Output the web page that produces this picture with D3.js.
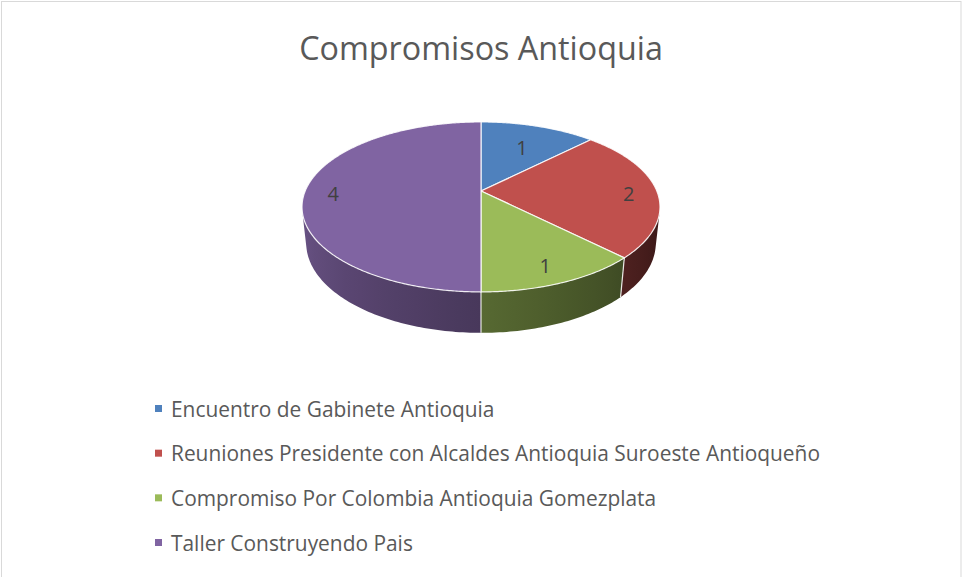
<!DOCTYPE html>
<html>
<head>
<meta charset="utf-8">
<script src="https://cdn.jsdelivr.net/npm/d3@7"></script>
<style>
  body { margin: 0; background: #fff; }
  svg { display: block; font-family: "Open Sans", Lato, sans-serif; }
</style>
</head>
<body>
<div id="chart"></div>
<script>
// chart data
const title = "Compromisos Antioquia";
const categories = [
  "Encuentro de Gabinete Antioquia",
  "Reuniones Presidente con Alcaldes Antioquia Suroeste Antioqueño",
  "Compromiso Por Colombia Antioquia Gomezplata",
  "Taller Construyendo Pais"
];
const values = [1, 2, 1, 4];
const colors = ["#4F81BD", "#C0504D", "#9BBB59", "#8064A2"];

const width = 962, height = 577;

const svg = d3.select("#chart").append("svg")
  .attr("width", width)
  .attr("height", height);

// chart area border
svg.append("rect")
  .attr("x", 1.5).attr("y", 1.5)
  .attr("width", width - 2.5).attr("height", height + 10)
  .attr("fill", "#fff")
  .attr("stroke", "#d9d9d9");

svg.append("text")
  .attr("x", 481).attr("y", 60)
  .attr("text-anchor", "middle")
  .attr("font-size", 32.3)
  .attr("fill", "#595959")
  .text(title);

// 3d perspective pie: angle measured clockwise from the back
const cx = 481, cy = 191;
const F = 175.8, K = 0.212, tilt = Math.asin(82 / 175.8), depthH = 0.235;
const cosT = Math.cos(tilt), sinT = Math.sin(tilt);

function project(a, r, z) {
  const X = r * Math.sin(a), Y = r * Math.cos(a);
  const d = 1 + K * (Y * cosT - z * sinT);
  return [cx + F * X / d, cy - F * (Y * sinT + z * cosT) / d];
}

const pie = d3.pie().sort(null).value(d => d)
  .startAngle(0).endAngle(2 * Math.PI);
const arcs = pie(values);

// outer wall visible where it faces the camera
const aVis = Math.acos(-K / cosT);
const aMin = aVis, aMax = 2 * Math.PI - aVis;

const shadeF = a => Math.max(0.2, Math.min(0.95, 0.56 + (a - Math.PI) * 0.2));
const shade = (col, a) => {
  const f = shadeF(a), c = d3.rgb(col);
  return d3.rgb(c.r * f, c.g * f, c.b * f).formatHex();
};

const line = d3.line();
const step = Math.PI / 180;
const defs = svg.append("defs");
const sides = svg.append("g");

arcs.forEach((d, i) => {
  const s = Math.max(d.startAngle, aMin), e = Math.min(d.endAngle, aMax);
  if (e <= s) return;
  const n = Math.ceil((e - s) / step);
  const angs = d3.range(n + 1).map(k => s + (e - s) * k / n);
  const topPts = angs.map(a => project(a, 1, 0));
  const botPts = angs.map(a => project(a, 1, -depthH)).reverse();

  // horizontal gradient following the wall's light falloff
  const x0 = topPts[0][0], x1 = topPts[n][0];
  const grad = defs.append("linearGradient")
    .attr("id", "side" + i)
    .attr("gradientUnits", "userSpaceOnUse")
    .attr("x1", x0).attr("x2", x1).attr("y1", 0).attr("y2", 0);
  angs.filter((a, k) => k % 6 === 0 || k === n).forEach(a => {
    const x = project(a, 1, 0)[0];
    grad.append("stop")
      .attr("offset", x1 === x0 ? 0 : (x - x0) / (x1 - x0))
      .attr("stop-color", shade(colors[i], a));
  });

  sides.append("path")
    .attr("d", line(topPts.concat(botPts)) + "Z")
    .attr("fill", `url(#side${i})`);
});

// seams between slices on the wall
arcs.forEach(d => {
  const a = d.startAngle;
  if (a > aMin && a < aMax) {
    sides.append("path")
      .attr("d", line([project(a, 1, 0), project(a, 1, -depthH)]))
      .attr("stroke", "#fff")
      .attr("stroke-opacity", 0.85)
      .attr("stroke-width", 1.2);
  }
});

// top faces
const topPolys = arcs.map(d => {
  const pts = [project(0, 0, 0)];
  for (let a = d.startAngle; a <= d.endAngle + 1e-9; a += step / 2) pts.push(project(a, 1, 0));
  pts.push(project(d.endAngle, 1, 0));
  return pts;
});

svg.append("g").selectAll("path")
  .data(arcs)
  .join("path")
  .attr("d", (d, i) => line(topPolys[i]) + "Z")
  .attr("fill", (d, i) => colors[i])
  .attr("stroke", "#fff")
  .attr("stroke-opacity", 0.85)
  .attr("stroke-width", 1.2)
  .attr("stroke-linejoin", "round");

// data labels, pulled inward until they fit in the slice
const labels = svg.append("g")
  .attr("font-size", 20)
  .attr("fill", "#404040")
  .attr("text-anchor", "middle");

arcs.forEach((d, i) => {
  const mid = (d.startAngle + d.endAngle) / 2;
  let r = 0.84, p;
  for (; r > 0.3; r -= 0.02) {
    p = project(mid, r, 0);
    const box = [[p[0] - 12, p[1] - 19], [p[0] + 12, p[1] - 19], [p[0] + 12, p[1] + 19], [p[0] - 12, p[1] + 19]];
    if (box.every(q => d3.polygonContains(topPolys[i], q))) break;
  }
  labels.append("text")
    .attr("x", p[0]).attr("y", p[1] + 10)
    .text(d.data);
});

// legend
const legendY = d3.scaleLinear().domain([0, categories.length - 1]).range([409, 543]);
const legend = svg.append("g").selectAll("g")
  .data(categories)
  .join("g")
  .attr("transform", (d, i) => `translate(155,${legendY(i)})`);

legend.append("rect")
  .attr("x", 0).attr("y", -4)
  .attr("width", 7).attr("height", 7)
  .attr("fill", (d, i) => colors[i]);

legend.append("text")
  .attr("x", 16).attr("y", 7.5)
  .attr("font-size", 20.9)
  .attr("fill", "#595959")
  .text(d => d);
</script>
</body>
</html>
